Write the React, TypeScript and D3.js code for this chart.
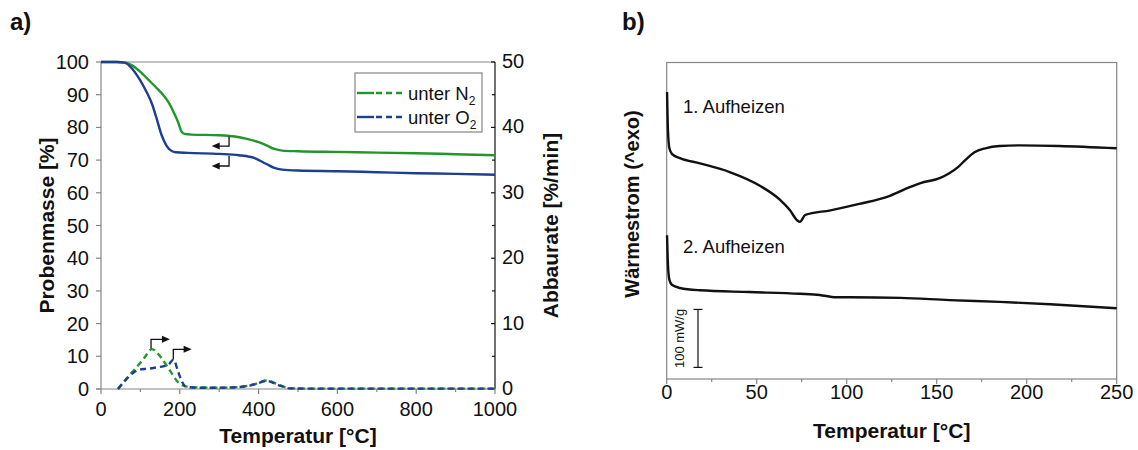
import React from 'react';
import * as d3 from 'd3';

const FONT = '"Liberation Sans", Arial, Helvetica, sans-serif';
const GREEN = '#23962b';
const BLUE = '#1d3f8e';
const FRAME = '#858585';
const INK = '#111111';

// ---- TGA (panel a): residual mass [%] vs temperature [°C]
const massN2Temp = [0, 40, 60, 80, 100, 120, 140, 160, 172, 185, 196, 204, 212, 230, 300, 340, 370, 400, 420, 440, 460, 500, 600, 700, 800, 900, 1000];
const massN2 = [100, 100, 99.8, 98.9, 97, 94.6, 92.2, 89.6, 87.6, 84.5, 81.5, 78.8, 78.0, 77.8, 77.6, 77.2, 76.5, 75.5, 74.5, 73.4, 72.9, 72.7, 72.5, 72.3, 72.1, 71.8, 71.5];

const massO2Temp = [0, 40, 60, 80, 100, 115, 130, 140, 154, 167, 178, 190, 220, 300, 350, 390, 420, 440, 460, 500, 600, 700, 800, 900, 1000];
const massO2 = [100, 100, 99.8, 97.8, 94.3, 91, 87, 83.2, 77.6, 74.3, 72.9, 72.4, 72.2, 71.9, 71.5, 70.6, 68.8, 67.6, 67.1, 66.8, 66.6, 66.3, 66.0, 65.8, 65.5];

// ---- Degradation rate [%/min] vs temperature [°C]
const rateN2Temp = [43, 65, 86, 108, 129, 150, 175, 196, 215, 240, 300, 350, 390, 420, 450, 480, 550, 700, 850, 1000];
const rateN2 = [0, 1.6, 3.05, 4.6, 6.1, 5.0, 2.8, 1.0, 0.4, 0.25, 0.2, 0.3, 0.75, 1.3, 0.7, 0.1, 0.05, 0.05, 0.05, 0.05];

const rateO2Temp = [43, 60, 80, 99, 120, 141, 160, 171, 184, 195, 205, 215, 240, 300, 350, 390, 420, 450, 480, 550, 700, 850, 1000];
const rateO2 = [0, 1.2, 2.4, 3.0, 3.1, 3.3, 3.5, 3.7, 4.5, 2.8, 1.2, 0.4, 0.2, 0.2, 0.3, 0.7, 1.25, 0.6, 0.1, 0.05, 0.05, 0.05, 0.05];

const tgaXTicks = [0, 200, 400, 600, 800, 1000];
const tgaXMinor = [100, 300, 500, 700, 900];
const massTicks = [0, 10, 20, 30, 40, 50, 60, 70, 80, 90, 100];
const rateTicks = [0, 10, 20, 30, 40, 50];
const rateMinor = [5, 15, 25, 35, 45];

// Axis-assignment arrows: [T start, value start, value corner, T end]
const massArrows = [
  [325, 77.2, 74.3, 281],
  [325, 71.3, 68.2, 281],
];
const rateArrows = [
  [127, 6.2, 7.6, 175],
  [183.5, 4.5, 6.07, 230],
];

// ---- DSC (panel b): heat flow [mW/g, offset] vs temperature [°C]
const dsc1Temp = [0.2, 0.7, 1.5, 3, 7.4, 18.5, 35, 52, 63, 68.5, 72.4, 74, 77, 91, 107, 124, 135, 141, 152, 157, 162, 166, 171, 177, 185, 196, 218, 250];
const dsc1 = [495, 429, 398, 388, 381, 372, 357, 333, 309, 291, 274, 271, 283, 291, 302, 316, 331, 338, 347, 355, 366, 378, 391, 398, 402, 403, 402, 398];

const dsc2Temp = [0.2, 0.7, 1.5, 3, 7.4, 18.5, 46, 74, 85, 94, 102, 130, 157, 185, 213, 250];
const dsc2 = [248, 197, 171, 162, 157, 153, 150, 147, 145, 141, 141, 140, 136, 133, 129, 122];

const dscXTicks = [0, 50, 100, 150, 200, 250];
const dscXMinor = [25, 75, 125, 175, 225];
const scaleBarValue = 100;

export default function App() {
  // panel a scales
  const xA = d3.scaleLinear().domain([0, 1000]).range([101, 495]);
  const yM = d3.scaleLinear().domain([0, 100]).range([389, 62]);
  const yR = d3.scaleLinear().domain([0, 50]).range([389, 62]);
  // panel b scales
  const xB = d3.scaleLinear().domain([0, 250]).range([666.7, 1116.7]);
  const yB = d3.scaleLinear().domain([0, 546]).range([379, 62.5]);

  const mk = (xs: number[], ys: number[], sx: any, sy: any) =>
    d3.line<number>()
      .x((_, i) => sx(xs[i]))
      .y((d) => sy(d))
      .curve(d3.curveMonotoneX)(ys) as string;

  const [a0, a1] = xA.range();
  const [ab, at] = yM.range();
  const [b0, b1] = xB.range();
  const [bb, bt] = yB.range();

  const arrowHead = (x: number, y: number, dir: number) =>
    `M${x},${y} L${x - dir * 8},${y - 3.5} L${x - dir * 8},${y + 3.5} Z`;

  return (
    <svg width={1138} height={450} style={{ position: 'absolute', left: 0, top: 0, background: '#fff' }}
      fontFamily={FONT}>
      <rect width={1138} height={450} fill="#fff" />

      {/* ================= panel a ================= */}
      <text x={10} y={30} fontSize={24} fontWeight="bold" fill={INK}>a)</text>

      {/* frame */}
      <line x1={a0} x2={a1} y1={at} y2={at} stroke={FRAME} strokeWidth={1.2} />
      <line x1={a0} x2={a0} y1={at} y2={ab} stroke={FRAME} strokeWidth={1.2} />
      <line x1={a0 - 5} x2={a1} y1={ab} y2={ab} stroke={FRAME} strokeWidth={1.2} />
      <line x1={a1} x2={a1} y1={at} y2={ab} stroke={INK} strokeWidth={1.2} />

      {/* left axis */}
      {massTicks.map((t) => (
        <g key={'m' + t}>
          <line x1={a0 - 5} x2={a0} y1={yM(t)} y2={yM(t)} stroke={FRAME} strokeWidth={1.2} />
          <text x={a0 - 12} y={yM(t) + 7} fontSize={20} textAnchor="end" fill={INK}>{t}</text>
        </g>
      ))}
      {/* right axis */}
      {rateTicks.map((t) => (
        <g key={'r' + t}>
          <line x1={a1 - 4} x2={a1} y1={yR(t)} y2={yR(t)} stroke={INK} strokeWidth={1.2} />
          <text x={a1 + 7} y={yR(t) + 6} fontSize={20} fill={INK}>{t}</text>
        </g>
      ))}
      {rateMinor.map((t) => (
        <line key={'rm' + t} x1={a1 - 3} x2={a1} y1={yR(t)} y2={yR(t)} stroke={INK} strokeWidth={1.2} />
      ))}
      {/* bottom axis */}
      {tgaXTicks.map((t) => (
        <g key={'x' + t}>
          <line x1={xA(t)} x2={xA(t)} y1={ab} y2={ab + 5} stroke={FRAME} strokeWidth={1.2} />
          <text x={xA(t)} y={ab + 27} fontSize={20} textAnchor="middle" fill={INK}>{t}</text>
        </g>
      ))}
      {tgaXMinor.map((t) => (
        <line key={'xm' + t} x1={xA(t)} x2={xA(t)} y1={ab} y2={ab + 3} stroke={FRAME} strokeWidth={1.2} />
      ))}

      {/* curves */}
      <path d={mk(massN2Temp, massN2, xA, yM)} fill="none" stroke={GREEN} strokeWidth={2.4} />
      <path d={mk(massO2Temp, massO2, xA, yM)} fill="none" stroke={BLUE} strokeWidth={2.4} />
      <path d={mk(rateN2Temp, rateN2, xA, yR)} fill="none" stroke={GREEN} strokeWidth={2.4} strokeDasharray="6 4" />
      <path d={mk(rateO2Temp, rateO2, xA, yR)} fill="none" stroke={BLUE} strokeWidth={2.4} strokeDasharray="6 4" />

      {/* arrows pointing to the matching axis */}
      {massArrows.map(([t0, v0, v1, t1], i) => (
        <g key={'ma' + i}>
          <path d={`M${xA(t0)},${yM(v0)} V${yM(v1)} H${xA(t1) + 6}`} fill="none" stroke={INK} strokeWidth={1.3} />
          <path d={arrowHead(xA(t1), yM(v1), -1)} fill={INK} />
        </g>
      ))}
      {rateArrows.map(([t0, v0, v1, t1], i) => (
        <g key={'ra' + i}>
          <path d={`M${xA(t0)},${yR(v0)} V${yR(v1)} H${xA(t1) - 6}`} fill="none" stroke={INK} strokeWidth={1.3} />
          <path d={arrowHead(xA(t1), yR(v1), 1)} fill={INK} />
        </g>
      ))}

      {/* legend */}
      <rect x={355} y={73} width={127} height={59} fill="#fff" stroke={FRAME} strokeWidth={1.2} />
      {[
        { c: GREEN, s: 'N', y: 93 },
        { c: BLUE, s: 'O', y: 117 },
      ].map((e) => (
        <g key={e.s}>
          <line x1={357} x2={374} y1={e.y} y2={e.y} stroke={e.c} strokeWidth={2.4} />
          <line x1={376} x2={406} y1={e.y} y2={e.y} stroke={e.c} strokeWidth={2.4} strokeDasharray="6 4" />
          <text x={408} y={e.y + 6.5} fontSize={18.5} fill={INK}>
            unter {e.s}
            <tspan fontSize={12} dy={5}>2</tspan>
          </text>
        </g>
      ))}

      {/* axis titles */}
      <text x={(a0 + a1) / 2} y={443} fontSize={21} fontWeight="bold" textAnchor="middle" fill={INK}>Temperatur [°C]</text>
      <text transform={`translate(54,${(at + ab) / 2}) rotate(-90)`} fontSize={21} fontWeight="bold" textAnchor="middle" fill={INK}>Probenmasse [%]</text>
      <text transform={`translate(558,${(at + ab) / 2}) rotate(-90)`} fontSize={21} fontWeight="bold" textAnchor="middle" fill={INK}>Abbaurate [%/min]</text>

      {/* ================= panel b ================= */}
      <text x={622} y={30} fontSize={24} fontWeight="bold" fill={INK}>b)</text>

      <rect x={b0} y={bt} width={b1 - b0} height={bb - bt} fill="none" stroke={FRAME} strokeWidth={1.2} />
      {dscXTicks.map((t) => (
        <g key={'bx' + t}>
          <line x1={xB(t)} x2={xB(t)} y1={bb} y2={bb + 5} stroke={FRAME} strokeWidth={1.2} />
          <text x={xB(t)} y={bb + 20} fontSize={20} textAnchor="middle" fill={INK}>{t}</text>
        </g>
      ))}
      {dscXMinor.map((t) => (
        <line key={'bxm' + t} x1={xB(t)} x2={xB(t)} y1={bb} y2={bb + 3} stroke={FRAME} strokeWidth={1.2} />
      ))}

      <path d={mk(dsc1Temp, dsc1, xB, yB)} fill="none" stroke={INK} strokeWidth={2.4} />
      <path d={mk(dsc2Temp, dsc2, xB, yB)} fill="none" stroke={INK} strokeWidth={2.4} />

      <text x={683} y={113} fontSize={18.5} fill={INK}>1. Aufheizen</text>
      <text x={683} y={253} fontSize={18.5} fill={INK}>2. Aufheizen</text>

      {/* 100 mW/g scale bar */}
      <g stroke={INK} strokeWidth={1.2}>
        <line x1={698} x2={698} y1={yB(scaleBarValue + 20)} y2={yB(20)} />
        <line x1={693.5} x2={702.5} y1={yB(scaleBarValue + 20)} y2={yB(scaleBarValue + 20)} />
        <line x1={693.5} x2={702.5} y1={yB(20)} y2={yB(20)} />
      </g>
      <text transform={`translate(683.5,${yB(scaleBarValue / 2 + 20)}) rotate(-90)`} fontSize={13} textAnchor="middle" fill={INK}>
        {scaleBarValue} mW/g
      </text>

      <text x={(b0 + b1) / 2} y={438} fontSize={21} fontWeight="bold" textAnchor="middle" fill={INK}>Temperatur [°C]</text>
      <text transform={`translate(639,204) rotate(-90)`} fontSize={20} fontWeight="bold" textAnchor="middle" fill={INK}>Wärmestrom (^exo)</text>
    </svg>
  );
}
